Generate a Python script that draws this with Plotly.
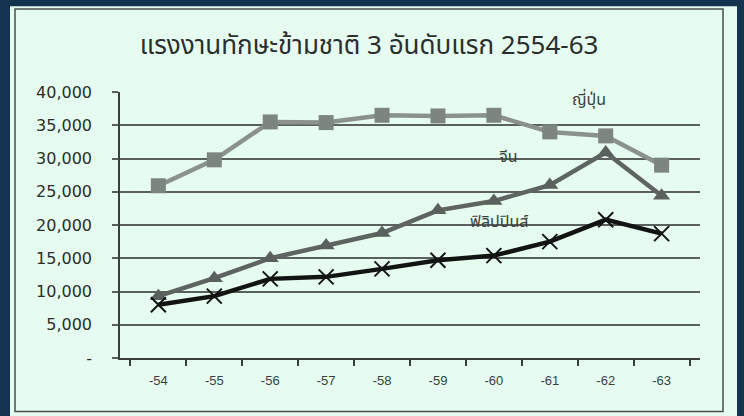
import plotly.graph_objects as go

categories = ["-54", "-55", "-56", "-57", "-58", "-59", "-60", "-61", "-62", "-63"]
japan = [25900, 29800, 35500, 35400, 36500, 36400, 36500, 34000, 33400, 29000]
china = [9300, 12000, 15000, 16900, 18800, 22200, 23600, 26000, 30900, 24400]
philippines = [8000, 9300, 11900, 12200, 13400, 14700, 15400, 17500, 20800, 18700]

series_names = ["ญี่ปุ่น", "จีน", "ฟิลิปปินส์"]
y_ticks = [0, 5000, 10000, 15000, 20000, 25000, 30000, 35000, 40000]
y_ticktext = ["-" if v == 0 else f"{v:,}" for v in y_ticks]
title_text = "แรงงานทักษะข้ามชาติ 3 อันดับแรก 2554-63"

MINT = "#e6fcf0"
NAVY = "#14334e"
thai_font = "Noto Sans Thai, Tahoma, Loma, Garuda, DejaVu Sans, sans-serif"

PL, PT, PW, PH = 120, 92, 580, 266.4

fig = go.Figure()
fig.add_trace(go.Scatter(
    x=categories, y=japan, name=series_names[0], mode="lines+markers",
    line=dict(color="#8b928e", width=4.5),
    marker=dict(symbol="square", size=15, color="#7d8581"),
))
fig.add_trace(go.Scatter(
    x=categories, y=china, name=series_names[1], mode="lines+markers",
    line=dict(color="#5e6461", width=4.5),
    marker=dict(symbol="triangle-up", size=15, color="#5a605d"),
))
fig.add_trace(go.Scatter(
    x=categories, y=philippines, name=series_names[2], mode="lines+markers",
    line=dict(color="#121413", width=4.5),
    marker=dict(symbol="x-thin", size=15, line=dict(color="#121413", width=2)),
))

label_pos = [(7.7, 38800), (6.26, 30200), (6.1, 20500)]
for name, (lx, ly) in zip(series_names, label_pos):
    fig.add_annotation(x=lx, y=ly, xref="x", yref="y", text=name, showarrow=False,
                       font=dict(family=thai_font, size=16, color="#3a3f3c"))

def px_x(p):
    return (p - PL) / PW

def px_y(p):
    return (PT + PH - p) / PH

fig.add_shape(type="rect", xref="paper", yref="paper",
              x0=px_x(10), x1=px_x(737), y0=px_y(430), y1=px_y(6),
              fillcolor=MINT, line=dict(width=0), layer="below")
fig.add_shape(type="rect", xref="paper", yref="paper",
              x0=px_x(15), x1=px_x(723), y0=px_y(412), y1=px_y(9),
              line=dict(color="#4a4f4c", width=1.5), layer="below")

fig.update_layout(
    width=744, height=416,
    margin=dict(l=PL, r=744 - PL - PW, t=PT, b=416 - PT - PH),
    paper_bgcolor=NAVY,
    plot_bgcolor="rgba(0,0,0,0)",
    showlegend=False,
    hovermode=False,
    title=dict(text=title_text, x=369 / 744, xanchor="center",
               y=1 - 45 / 416, yanchor="middle",
               xref="container", yref="container",
               font=dict(family=thai_font, size=26, color="#2a2e2c")),
    xaxis=dict(
        type="category", categoryorder="array", categoryarray=categories,
        showgrid=False, showline=True, linecolor="#3a3f3c", linewidth=1.5,
        ticks="outside", tickson="boundaries", ticklen=6, tickcolor="#3a3f3c", tickwidth=1.5,
        tickfont=dict(family="Liberation Sans Narrow, Liberation Sans, Arial", size=13, color="#3a3f3c"),
        ticklabelstandoff=10,
    ),
    yaxis=dict(
        range=[0, 40000], tickvals=y_ticks, ticktext=y_ticktext,
        showgrid=True, gridcolor="#5a605d", gridwidth=1.5, zeroline=False,
        showline=True, linecolor="#3a3f3c", linewidth=1.5,
        ticks="outside", ticklen=6, tickcolor="#5a605d", tickwidth=1.5,
        tickfont=dict(family="DejaVu Sans, Tahoma, sans-serif", size=16, color="#2a2e2c"),
        ticklabelstandoff=17,
    ),
)

fig.write_html(
    "out.html",
    config={"displayModeBar": False},
    post_script="document.body.style.margin='0';document.body.style.overflow='hidden';"
                "document.body.style.background='#14334e';",
)
